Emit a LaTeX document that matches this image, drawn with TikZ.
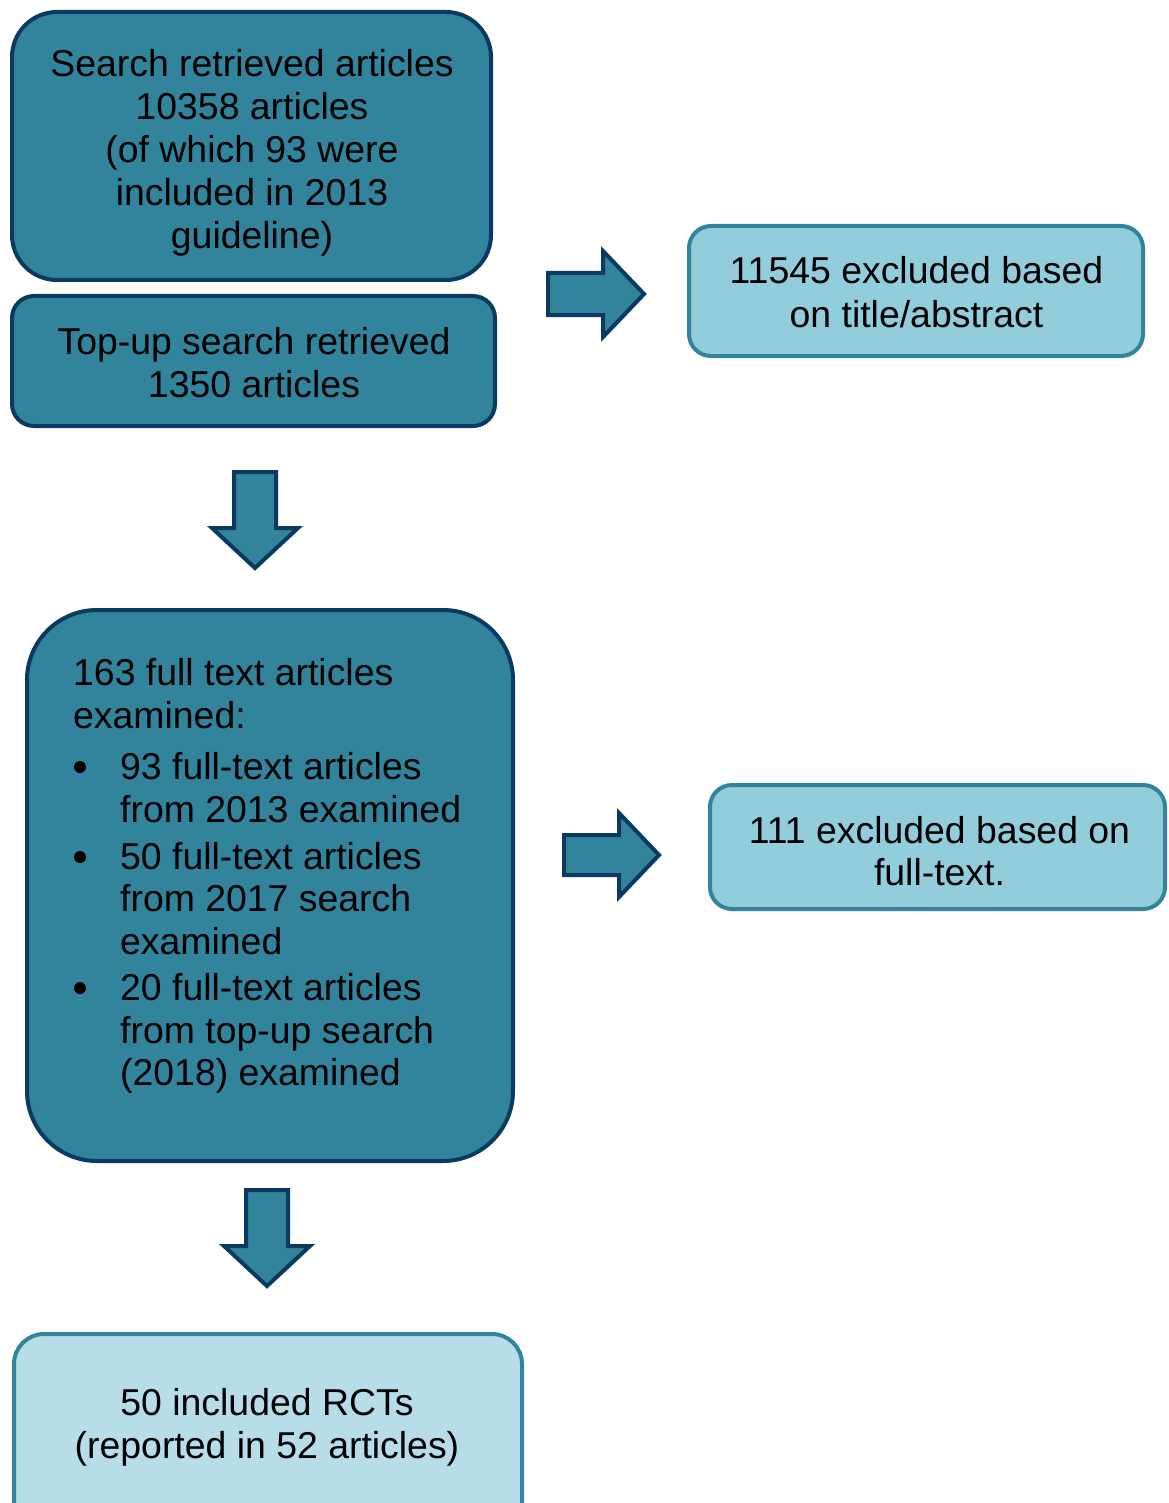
\documentclass[tikz,border=0pt]{standalone}
\usepackage{fontspec}
\setmainfont{Liberation Sans}
\definecolor{navy}{RGB}{10,58,96}
\definecolor{tealfill}{RGB}{49,132,155}
\definecolor{lightb}{RGB}{146,205,220}
\definecolor{paleb}{RGB}{183,221,232}
\tikzset{
  darkbox/.style={draw=navy, fill=tealfill, line width=4pt, inner sep=0pt},
  lightbox/.style={draw=tealfill, fill=lightb, line width=4pt, inner sep=0pt},
  palebox/.style={draw=tealfill, fill=paleb, line width=4pt, inner sep=0pt},
  blockarrow/.style={draw=navy, fill=tealfill, line width=4pt, line join=miter},
  lbl/.style={anchor=base, inner sep=0pt, font=\fontsize{37.4}{43}\selectfont},
  lbll/.style={anchor=base west, inner sep=0pt, font=\fontsize{37.4}{43}\selectfont},
  bulletdot/.style={circle, fill=black, minimum size=12pt, inner sep=0pt},
}
\begin{document}
\begin{tikzpicture}[x=1pt,y=-1pt]
\useasboundingbox[fill=white] (0,0) rectangle (1168,1503);

% boxes
\node[darkbox, rounded corners=45pt, minimum width=479pt, minimum height=268pt] (b1) at (251.5,146) {};
\node[darkbox, rounded corners=22pt, minimum width=483pt, minimum height=130pt] (b2) at (253.5,361) {};
\node[lightbox, rounded corners=22pt, minimum width=454pt, minimum height=130pt] (r1) at (916,291) {};
\node[darkbox, rounded corners=70pt, minimum width=486pt, minimum height=551pt] (b3) at (270,885.5) {};
\node[lightbox, rounded corners=22pt, minimum width=455pt, minimum height=124pt] (r2) at (937.5,847) {};
\node[palebox, rounded corners=30pt, minimum width=508pt, minimum height=206pt] (b4) at (268,1437) {};

% block arrows
\draw[blockarrow] (548,273) -- (603,273) -- (603,251) -- (644,294) -- (603,337) -- (603,315) -- (548,315) -- cycle;
\draw[blockarrow] (234,472) -- (276,472) -- (276,528) -- (298,528) -- (255,568) -- (212,528) -- (234,528) -- cycle;
\draw[blockarrow] (564,835) -- (619,835) -- (619,813) -- (659,855) -- (619,897) -- (619,875) -- (564,875) -- cycle;
\draw[blockarrow] (246,1190) -- (288,1190) -- (288,1246) -- (310,1246) -- (267,1286) -- (224,1246) -- (246,1246) -- cycle;

% texts box 1
\node[lbl] (t1a) at (252,77) {Search retrieved articles};
\node[lbl] (t1b) at (252,120) {10358 articles};
\node[lbl] (t1c) at (252,163) {(of which 93 were};
\node[lbl] (t1d) at (252,206) {included in 2013};
\node[lbl] (t1e) at (252,249) {guideline)};
% box 2
\node[lbl] (t2a) at (254,354) {Top-up search retrieved};
\node[lbl] (t2b) at (254,397) {1350 articles};
% right box 1
\node[lbl] (tr1a) at (916.5,284) {11545 excluded based};
\node[lbl] (tr1b) at (916.5,327) {on title/abstract};
% box 3
\node[lbll] (t3a) at (73,685) {163 full text articles};
\node[lbll] (t3b) at (73,728) {examined:};
\node[bulletdot] (u1) at (80,767) {};
\node[lbll] (t3c) at (120,779) {93 full-text articles};
\node[lbll] (t3d) at (120,822) {from 2013 examined};
\node[bulletdot] (u2) at (80,857) {};
\node[lbll] (t3e) at (120,869) {50 full-text articles};
\node[lbll] (t3f) at (120,911) {from 2017 search};
\node[lbll] (t3g) at (120,954) {examined};
\node[bulletdot] (u3) at (80,988) {};
\node[lbll] (t3h) at (120,1000) {20 full-text articles};
\node[lbll] (t3i) at (120,1043) {from top-up search};
\node[lbll] (t3j) at (120,1085) {(2018) examined};
% right box 2
\node[lbl] (tr2a) at (939.5,843) {111 excluded based on};
\node[lbl] (tr2b) at (939.5,885) {full-text.};
% box 4
\node[lbl] (t4a) at (267,1415) {50 included RCTs};
\node[lbl] (t4b) at (267,1458) {(reported in 52 articles)};
\end{tikzpicture}
\end{document}
